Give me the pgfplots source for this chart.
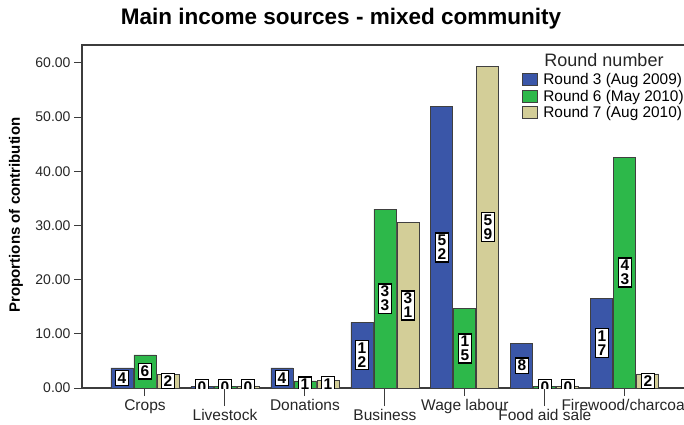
\documentclass[border=0pt]{standalone}
\usepackage{pgfplots}
\pgfplotsset{compat=1.18}
\usepackage{fontspec}
\setmainfont{Liberation Sans}
\definecolor{cblue}{RGB}{58,86,168}
\definecolor{cgreen}{RGB}{45,184,74}
\definecolor{ctan}{RGB}{211,206,152}
\definecolor{axgray}{RGB}{60,60,60}
\makeatletter
\def\stackdigits#1{\edef\sd@tmp{#1}\expandafter\sd@split\sd@tmp\relax}
\def\sd@split#1#2\relax{\ifx\relax#2\relax #1\else\shortstack{#1\\#2}\fi}
\makeatother
\pgfplotsset{
  mybar/.style={ybar, bar width=22pt, bar shift=#1, draw=black!75, line width=0.8pt,
    every node near coord/.append style={xshift=#1},
    legend image code/.code={\draw[##1,bar shift=0pt] (0pt,-6pt) rectangle (15pt,6pt); \path (19pt,0pt);}},
}
\begin{document}
\begin{tikzpicture}
\begin{axis}[
  at={(82pt,36pt)}, anchor=south west,
  scale only axis, width=606pt, height=343pt,
  xmin=-0.7875, xmax=6.79, ymin=0, ymax=63.3,
  axis line style={axgray, line width=1.2pt},
  tick style={axgray, line width=1pt},
  tick align=outside, major tick length=8pt,
  xtick pos=bottom, ytick pos=left,
  ytick={0,10,...,60},
  ticklabel style={font=\fontsize{15.5}{16}\selectfont, text=black!85},
  yticklabel style={font=\fontsize{14}{16}\selectfont, /pgf/number format/.cd, fixed, fixed zerofill, precision=2, assume math mode=true},
  xtick={0,2,4,6},
  xticklabels={Crops, Donations, Wage labour, Firewood/charcoal},
  extra x ticks={1,3,5},
  extra x tick labels={Livestock, Business, Food aid sale},
  extra x tick style={major tick length=18pt},
  clip marker paths=true,
  point meta=explicit symbolic,
  nodes near coords={\stackdigits{\pgfplotspointmeta}},
  visualization depends on={rawy \as \rawy},
  every node near coord/.append style={anchor=center, yshift=-\rawy*2.7093pt,
     fill=white, draw=black, line width=1.4pt, inner sep=2.2pt,
     font=\bfseries\fontsize{15.5}{14}\selectfont},
  legend style={at={(0.72,0.93)}, anchor=north west, draw=none, fill=none,
     font=\fontsize{15.4}{16}\selectfont, row sep=0pt},
  legend cell align=left,
]
\addplot[mybar=-23pt, fill=cblue] coordinates {
 (0,3.7) [4] (1,0.3) [0] (2,3.7) [4] (3,12.1) [12] (4,51.9) [52] (5,8.3) [8] (6,16.6) [17]};
\addplot[mybar=0pt, fill=cgreen] coordinates {
 (0,6.1) [6] (1,0.3) [0] (2,1.3) [1] (3,33.0) [33] (4,14.6) [15] (5,0.3) [0] (6,42.6) [43]};
\addplot[mybar=23pt, fill=ctan] coordinates {
 (0,2.5) [2] (1,0.3) [0] (2,1.4) [1] (3,30.5) [31] (4,59.4) [59] (5,0.3) [0] (6,2.6) [2]};
\legend{Round 3 (Aug 2009), Round 6 (May 2010), Round 7 (Aug 2010)}
\end{axis}
\node[font=\bfseries\fontsize{22.5}{24}\selectfont] at (341pt,405pt) {Main income sources - mixed community};
\node[font=\bfseries\fontsize{15}{18}\selectfont, rotate=90] at (16pt,209pt) {Proportions of contribution};
\node[font=\fontsize{18}{20}\selectfont, text=black!85] at (604pt,364pt) {Round number};
\pgfresetboundingbox
\path[use as bounding box] (0,0) rectangle (684pt,424pt);
\end{tikzpicture}
\end{document}
